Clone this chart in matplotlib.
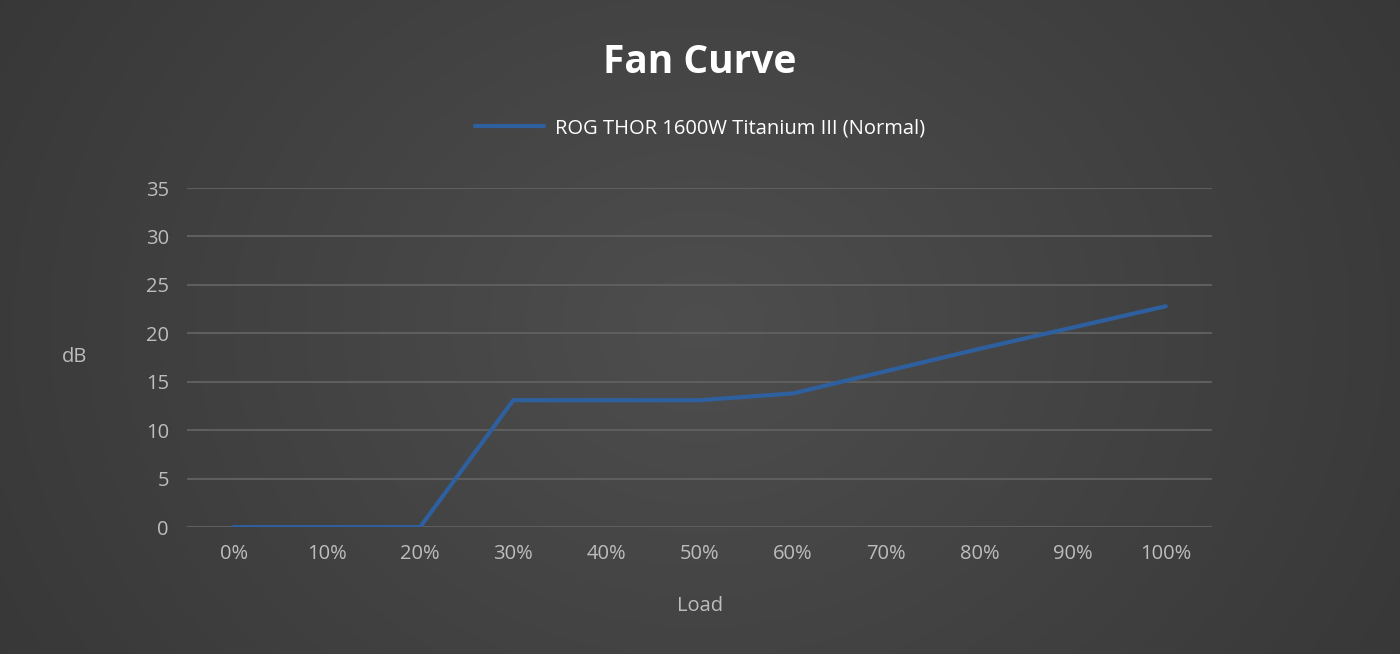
import numpy as np
import matplotlib.pyplot as plt

loads = ['0%', '10%', '20%', '30%', '40%', '50%', '60%', '70%', '80%', '90%', '100%']
noise_db = [0, 0, 0, 13.1, 13.1, 13.1, 13.8, 16.1, 18.4, 20.6, 22.8]
series_name = 'ROG THOR 1600W Titanium III (Normal)'
y_ticks = [0, 5, 10, 15, 20, 25, 30, 35]

plt.rcParams['font.family'] = ['Open Sans', 'DejaVu Sans']

fig = plt.figure(figsize=(14, 6.54), dpi=100)

# radial gradient background, lighter in the middle
bg = fig.add_axes([0, 0, 1, 1], zorder=-10)
gx, gy = np.meshgrid(np.linspace(-1, 1, 700), np.linspace(-1, 1, 327))
r = np.sqrt(gx ** 2 + (gy / 1.8) ** 2)
shade = 0.305 - 0.09 * np.clip(r, 0, 1.2) / 1.2
bg.imshow(np.dstack([shade, shade, shade]), aspect='auto', extent=[0, 1, 0, 1])
bg.axis('off')

ax = fig.add_axes([0.1336, 0.194, 0.7324, 0.5185])
ax.patch.set_alpha(0)
x = np.arange(len(loads))
ax.plot(x, noise_db, color='#2e60a0', lw=3, label=series_name, solid_capstyle='round')

ax.set_xlim(-0.5, len(loads) - 0.5)
ax.set_ylim(0, 35)
ax.set_yticks(y_ticks)
ax.set_xticks(x)
ax.set_xticklabels(loads)
ax.grid(axis='y', color='#5e5e5e', lw=1.5)
ax.set_axisbelow(True)
for s in ax.spines.values():
    s.set_visible(False)
ax.tick_params(length=0, colors='#bdbdbd', labelsize=14.5)
ax.tick_params(axis='y', pad=13)
ax.tick_params(axis='x', pad=12)

fig.text(0.5, 0.905, 'Fan Curve', ha='center', va='center', color='white',
         fontsize=28, fontweight='bold')
fig.text(0.0536, 0.454, 'dB', ha='center', va='center', color='#bdbdbd', fontsize=14.5)
fig.text(0.5, 0.074, 'Load', ha='center', va='center', color='#bdbdbd', fontsize=14.5)

leg = fig.legend(loc='center', bbox_to_anchor=(0.5, 0.804), frameon=False,
                 fontsize=14.5, handlelength=3.4, handletextpad=0.55)
for t in leg.get_texts():
    t.set_color('white')

fig.savefig('out.png', dpi=100, facecolor='#3a3a3a')
